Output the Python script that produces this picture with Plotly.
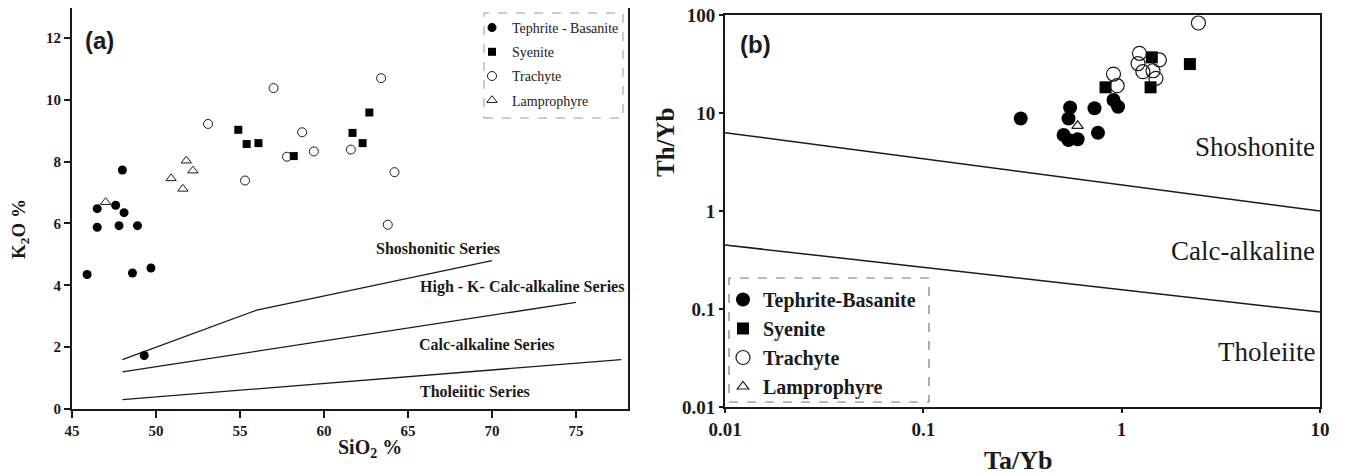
import plotly.graph_objects as go

# ---- panel (a): SiO2 vs K2O ----
a_tb_x = [48.0, 46.5, 47.6, 48.1, 46.5, 47.8, 48.9, 45.9, 48.6, 49.7, 49.3]
a_tb_y = [7.73, 6.48, 6.59, 6.35, 5.88, 5.93, 5.93, 4.35, 4.40, 4.56, 1.73]
a_sy_x = [54.9, 55.4, 56.1, 58.2, 62.7, 61.7, 62.3]
a_sy_y = [9.03, 8.57, 8.60, 8.18, 9.59, 8.93, 8.60]
a_tr_x = [53.1, 57.0, 55.3, 57.8, 58.7, 59.4, 63.4, 61.6, 64.2, 63.8]
a_tr_y = [9.22, 10.38, 7.39, 8.16, 8.95, 8.33, 10.70, 8.39, 7.66, 5.96]
a_la_x = [47.0, 50.9, 51.8, 52.2, 51.6]
a_la_y = [6.69, 7.46, 8.03, 7.71, 7.12]

a_shosh_x = [48, 56, 70]
a_shosh_y = [1.6, 3.2, 4.8]
a_highk_x = [48, 75]
a_highk_y = [1.2, 3.45]
a_thol_x = [48, 77.7]
a_thol_y = [0.3, 1.6]

a_labels = ["Shoshonitic Series", "High - K- Calc-alkaline Series",
            "Calc-alkaline Series", "Tholeiitic Series"]
a_label_x = [66.8, 71.8, 69.7, 69.0]
a_label_y = [5.2, 3.94, 2.1, 0.58]

# ---- panel (b): Ta/Yb vs Th/Yb ----
b_tb_x = [0.31, 0.55, 0.54, 0.73, 0.51, 0.54, 0.60, 0.76, 0.91, 0.96]
b_tb_y = [8.8, 11.4, 8.8, 11.2, 5.97, 5.3, 5.4, 6.3, 13.6, 11.6]
b_sy_x = [0.83, 1.42, 1.40, 2.21]
b_sy_y = [18.3, 37.0, 18.3, 31.6]
b_tr_x = [2.44, 1.23, 1.21, 1.55, 1.28, 1.44, 1.49, 0.91, 0.95]
b_tr_y = [83.0, 40.7, 32.0, 34.8, 26.4, 27.0, 22.6, 25.0, 19.0]
b_la_x = [0.60]
b_la_y = [7.4]

b_upper_x = [0.01, 10]
b_upper_y = [6.3, 1.0]
b_lower_x = [0.01, 10]
b_lower_y = [0.45, 0.093]

b_labels = ["Shoshonite", "Calc-alkaline", "Tholeiite"]
b_label_logy = [0.653, -0.408, -1.439]

names = ["Tephrite - Basanite", "Syenite", "Trachyte", "Lamprophyre"]
names_b = ["Tephrite-Basanite", "Syenite", "Trachyte", "Lamprophyre"]

SERIF = "Liberation Serif, Times New Roman, serif"
SANS = "Liberation Sans, Arial, sans-serif"
INK = "#1a1a1a"

fig = go.Figure()

# boundary lines
for xs, ys in [(a_shosh_x, a_shosh_y), (a_highk_x, a_highk_y), (a_thol_x, a_thol_y)]:
    fig.add_trace(go.Scatter(x=xs, y=ys, mode='lines', line=dict(color=INK, width=1.3),
                             showlegend=False, hoverinfo='skip', xaxis='x', yaxis='y'))
for xs, ys in [(b_upper_x, b_upper_y), (b_lower_x, b_lower_y)]:
    fig.add_trace(go.Scatter(x=xs, y=ys, mode='lines', line=dict(color=INK, width=1.5),
                             showlegend=False, hoverinfo='skip', xaxis='x2', yaxis='y2'))

styles_a = [
    dict(symbol='circle', size=9, color='black'),
    dict(symbol='square', size=8, color='black'),
    dict(symbol='circle-open', size=9, color=INK, line=dict(width=1, color=INK)),
    dict(symbol='triangle-up-open', size=9, color=INK, line=dict(width=1, color=INK)),
]
styles_b = [
    dict(symbol='circle', size=14, color='black'),
    dict(symbol='square', size=12, color='black'),
    dict(symbol='circle-open', size=14, color=INK, line=dict(width=1.2, color=INK)),
    dict(symbol='triangle-up-open', size=10, color=INK, line=dict(width=1.2, color=INK)),
]

series_a = [(a_tb_x, a_tb_y), (a_sy_x, a_sy_y), (a_tr_x, a_tr_y), (a_la_x, a_la_y)]
series_b = [(b_tb_x, b_tb_y), (b_sy_x, b_sy_y), (b_tr_x, b_tr_y), (b_la_x, b_la_y)]

for i, (xs, ys) in enumerate(series_a):
    fig.add_trace(go.Scatter(x=xs, y=ys, mode='markers', name=names[i], marker=styles_a[i],
                             legend='legend', legendgroup=f'a{i}', xaxis='x', yaxis='y'))
for i, (xs, ys) in enumerate(series_b):
    fig.add_trace(go.Scatter(x=xs, y=ys, mode='markers', name=names_b[i], marker=styles_b[i],
                             legend='legend2', legendgroup=f'b{i}', xaxis='x2', yaxis='y2'))

# page body has an 8px margin, so the figure is drawn 8px in from the window corner
OFF = 8
W, H = 1345 - OFF, 475 - OFF


def px(x):
    return (x - OFF) / W


def py(y):
    return 1 - (y - OFF) / H


axis_common = dict(showline=True, linecolor=INK, linewidth=2, mirror=True, ticks='outside',
                   tickcolor=INK, showgrid=False, zeroline=False, automargin=False,
                   ticklabeloverflow='allow')

annotations = []
for t, x, y in zip(a_labels, a_label_x, a_label_y):
    annotations.append(dict(text=t, x=x, y=y, xref='x', yref='y', showarrow=False,
                            xanchor='center', yanchor='middle',
                            font=dict(family=SERIF, size=16, color=INK, weight='bold')))
for t, y in zip(b_labels, b_label_logy):
    annotations.append(dict(text=t, x=0.995, y=y, xref='x2 domain', yref='y2', showarrow=False,
                            xanchor='right', yanchor='middle',
                            font=dict(family=SERIF, size=27, color=INK)))


def label(text, x, y, size, family=SERIF, angle=0, anchor='center'):
    return dict(text=text, x=px(x), y=py(y), xref='paper', yref='paper', textangle=angle,
                xanchor=anchor, yanchor='middle', showarrow=False,
                font=dict(family=family, size=size, color=INK, weight='bold'))


annotations += [
    label('(a)', 83, 41, 24, family=SANS, anchor='left'),
    label('(b)', 738, 44, 24, family=SANS, anchor='left'),
    label('K<sub>2</sub>O %', 20, 229, 19, angle=-90),
    label('SiO<sub>2</sub> %', 370, 448, 20),
    label('Th/Yb', 666, 143, 25, angle=-90),
    label('Ta/Yb', 1018, 460, 26),
]

shapes = [
    dict(type='rect', xref='paper', yref='paper', x0=px(484), x1=px(623), y0=py(118), y1=py(13),
         line=dict(color='#999', width=1, dash='dash')),
    dict(type='rect', xref='paper', yref='paper', x0=px(729), x1=px(929), y0=py(402), y1=py(278),
         line=dict(color='#777', width=1.2, dash='dash')),
]

fig.update_layout(
    width=W, height=H,
    margin=dict(l=0, r=0, t=0, b=0, autoexpand=False),
    paper_bgcolor='white', plot_bgcolor='white',
    font=dict(family=SERIF, color=INK),
    xaxis=dict(domain=[px(72), px(628)], range=[45, 78.1], tickvals=[45, 50, 55, 60, 65, 70, 75],
               ticklen=7, tickwidth=1.5, anchor='y',
               tickfont=dict(family=SERIF, size=15, weight='bold'), **axis_common),
    yaxis=dict(domain=[py(409), py(8)], range=[0, 12.97], tickvals=[0, 2, 4, 6, 8, 10, 12],
               ticklen=6, tickwidth=1.5, anchor='x',
               tickfont=dict(family=SERIF, size=15, weight='bold'), **axis_common),
    xaxis2=dict(domain=[px(725), px(1320)], type='log', range=[-2, 1.0005],
                tickvals=[0.01, 0.1, 1, 10], ticktext=['0.01', '0.1', '1', '10'],
                ticklen=4, tickwidth=1.5, anchor='y2',
                tickfont=dict(family=SERIF, size=19, weight='bold'), **axis_common),
    yaxis2=dict(domain=[py(407), py(15)], type='log', range=[-2.0005, 2.0005],
                tickvals=[0.01, 0.1, 1, 10, 100], ticktext=['0.01', '0.1', '1', '10', '100'],
                ticklen=4, tickwidth=1.5, anchor='x2',
                tickfont=dict(family=SERIF, size=19, weight='bold'), **axis_common),
    legend=dict(x=px(472), y=py(12), xanchor='left', yanchor='top', bgcolor='rgba(0,0,0,0)',
                borderwidth=0, tracegroupgap=3,
                font=dict(family=SERIF, size=14, color=INK)),
    legend2=dict(x=px(723), y=py(280), xanchor='left', yanchor='top', bgcolor='rgba(0,0,0,0)',
                 borderwidth=0, tracegroupgap=0,
                 font=dict(family=SERIF, size=20, color=INK, weight='bold')),
    annotations=annotations,
    shapes=shapes,
    showlegend=True,
)

fig.write_html("out.html")
